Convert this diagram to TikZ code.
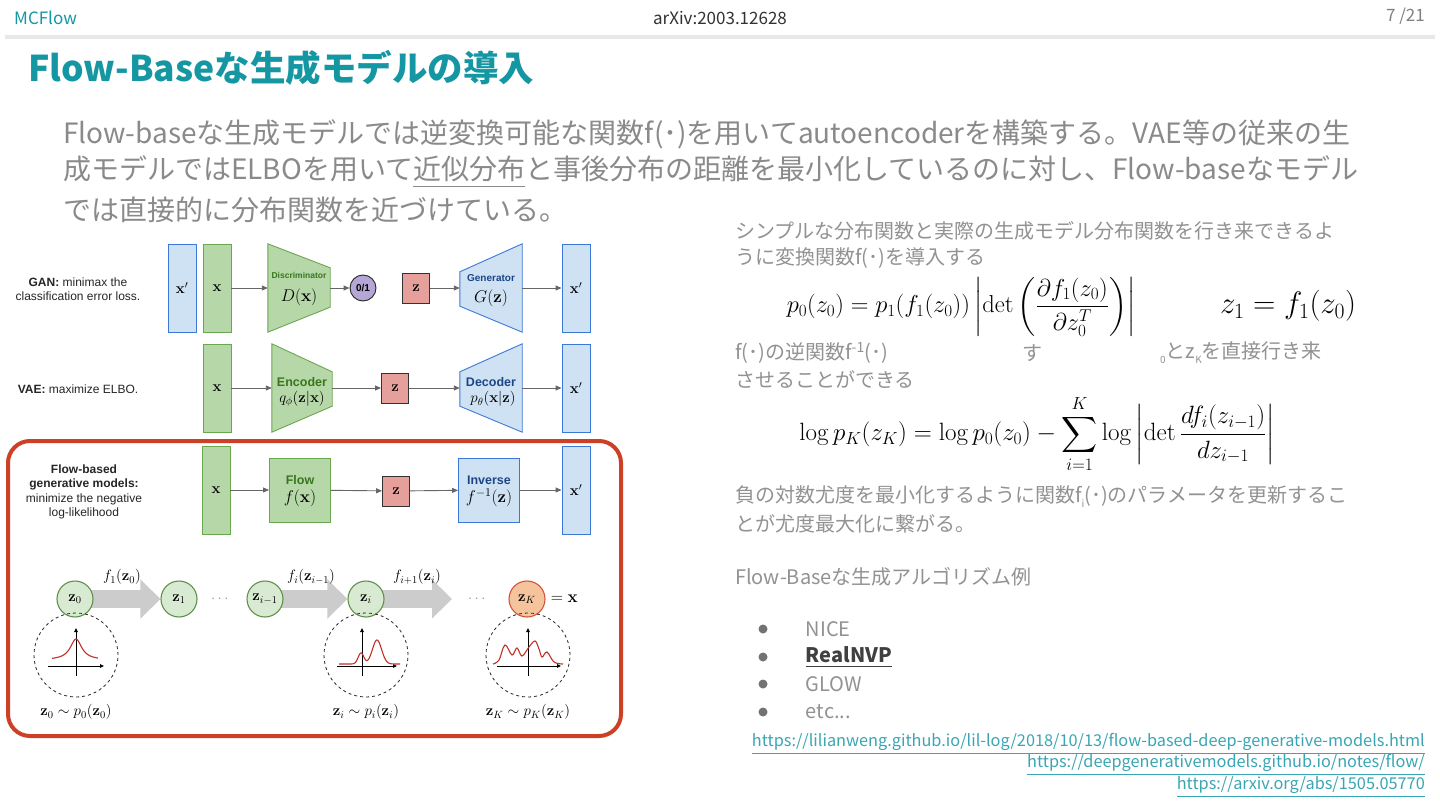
\RequirePackage{fix-cm}
\documentclass[tikz,border=0pt]{standalone}
\usepackage{amsmath,amssymb}
\usepackage[no-math]{fontspec}
\setmainfont{Noto Sans CJK JP}
\newfontfamily\arialfont{Liberation Sans}
\usetikzlibrary{arrows.meta, positioning, calc, backgrounds}

\definecolor{slideteal}{HTML}{1597A3}
\definecolor{bodygray}{HTML}{8A8A8A}
\definecolor{sidegray}{HTML}{929292}
\definecolor{rulegray}{HTML}{E8E8E8}
\definecolor{linkteal}{HTML}{3AA6B4}
\definecolor{grnfill}{HTML}{B6D7A8}
\definecolor{grnline}{HTML}{6AA84F}
\definecolor{grnlbl}{HTML}{38761D}
\definecolor{bluefill}{HTML}{CFE2F3}
\definecolor{blueline}{HTML}{3C78D8}
\definecolor{bluelbl}{HTML}{1C4587}
\definecolor{zred}{HTML}{E6A09B}
\definecolor{purp}{HTML}{B4A7D6}
\definecolor{cgreen}{HTML}{D9EAD3}
\definecolor{corange}{HTML}{F6C49C}
\definecolor{framered}{HTML}{CC4125}
\definecolor{blockgray}{HTML}{CCCCCC}
\definecolor{distred}{HTML}{C0302A}

\newcommand{\lowidx}[1]{\raisebox{-0.45ex}{\fontsize{10}{10}\selectfont #1}}

\begin{document}
\begin{tikzpicture}[x=1pt, y=-1pt,
  hdr/.style={font=\fontsize{17}{20}\selectfont, inner sep=0},
  bodytxt/.style={font=\fontsize{28}{32}\selectfont, text=bodygray, anchor=west, inner sep=0},
  sidetxt/.style={font=\fontsize{20}{23}\selectfont, text=sidegray, anchor=west, inner sep=0},
  linktxt/.style={font=\fontsize{16.3}{18}\selectfont, text=linkteal, anchor=east, inner sep=0},
  bulletdot/.style={circle, fill=black!55, minimum size=9, inner sep=0},
  region/.style={inner sep=0, minimum width=62, minimum height=88},
  gbar/.style={draw=grnline, fill=grnfill, line width=0.9pt, minimum width=28,
               minimum height=88, inner sep=0, font=\fontsize{15}{18}\selectfont},
  bbar/.style={gbar, draw=blueline, fill=bluefill},
  gshape/.style={draw=grnline, fill=grnfill, line width=0.9pt},
  bshape/.style={draw=blueline, fill=bluefill, line width=0.9pt},
  zsq/.style={draw=black!80, fill=zred, line width=0.9pt, minimum width=27,
              minimum height=30, inner sep=0, font=\fontsize{15}{18}\selectfont},
  figarr/.style={-{Triangle[length=6pt, width=5pt]}, draw=black!60, line width=0.9pt},
  glbl/.style={font=\arialfont\bfseries\fontsize{11}{13}\selectfont, text=grnlbl, inner sep=0},
  blbl/.style={glbl, text=bluelbl},
  fmath/.style={font=\fontsize{15}{18}\selectfont, inner sep=0},
  figlbl/.style={font=\arialfont\fontsize{12}{14.5}\selectfont, align=center, inner sep=0, text=black!85},
  cnode/.style={circle, draw=grnlbl!80, fill=cgreen, line width=1.1pt, minimum size=36,
                inner sep=0, font=\fontsize{15}{18}\selectfont},
  knode/.style={cnode, draw=framered!90, fill=corange},
  blkarr/.style={draw=blockgray, line width=18pt, -{Triangle[length=20pt, width=38pt]}},
  dcirc/.style={circle, draw=black!85, dashed, line width=0.8pt, minimum size=84, inner sep=0},
  axisarr/.style={-{Triangle[length=4pt, width=3.5pt]}, line width=0.9pt, draw=black},
  distcurve/.style={draw=distred, line width=1.1pt},
]
  \begin{scope}[on background layer]
    \fill[white] (0,0) rectangle (1440,810);
  \end{scope}
  \useasboundingbox (0,0) rectangle (1440,810);

  % header
  \node[hdr, text=slideteal, anchor=west] (mc) at (14,18) {MCFlow};
  \node[hdr, text=black!80] (arx) at (720,18) {arXiv:2003.12628};
  \node[hdr, text=black!50, anchor=east] (pg) at (1425,16) {7 /21};
  \draw[rulegray, line width=4pt] (5,37) -- (1435,37);

  \node[font=\fontsize{35.5}{40}\selectfont\bfseries, text=slideteal, anchor=west, inner sep=0]
    (ttl) at (28,68) {Flow-Baseな生成モデルの導入};

  % lead paragraph
  \node[bodytxt] (p1) at (63,134) {Flow-baseな生成モデルでは逆変換可能な関数f(･)を用いてautoencoderを構築する。VAE等の従来の生};
  \node[bodytxt] (p2) at (63,172) {成モデルではELBOを用いて\underline{近似分布}と事後分布の距離を最小化しているのに対し、Flow-baseなモデル};
  \node[bodytxt] (p3) at (63,210) {では直接的に分布関数を近づけている。};

  % right column
  \node[sidetxt] (r1) at (735,231) {シンプルな分布関数と実際の生成モデル分布関数を行き来できるよ};
  \node[sidetxt] (r2) at (735,258) {うに変換関数f(･)を導入する};
  \node[font=\fontsize{24.5}{29}\selectfont, inner sep=0] (eqjac) at (961,307)
    {$p_0(z_0) = p_1(f_1(z_0))\left|\det\left(\dfrac{\partial f_1(z_0)}{\partial z_0^T}\right)\right|$};
  \node[font=\fontsize{31}{36}\selectfont, inner sep=0] (eqmap) at (1288,306) {$z_1 = f_1(z_0)$};
  \node[sidetxt] (r3) at (735,353) {f(･)の逆関数f\textsuperscript{-1}(･)};
  \node[sidetxt] (r3b) at (1022,353) {す};
  \node[sidetxt] (r3c) at (1160,353) {\lowidx{0}とz\lowidx{K}を直接行き来};
  \node[sidetxt] (r4) at (735,380) {させることができる};
  \node[font=\fontsize{25}{29}\selectfont, inner sep=0] (eqlik) at (1037,434)
    {$\displaystyle \log p_K(z_K) = \log p_0(z_0) - \sum_{i=1}^{K}\log\left|\det\frac{df_i(z_{i-1})}{dz_{i-1}}\right|$};
  \node[sidetxt] (r5) at (735,497) {負の対数尤度を最小化するように関数f\lowidx{i}(･)のパラメータを更新するこ};
  \node[sidetxt] (r6) at (735,524) {とが尤度最大化に繋がる。};
  \node[sidetxt] (r7) at (735,577) {Flow-Baseな生成アルゴリズム例};

  \foreach \lbl/\yy [count=\k] in {NICE/629, {\textcolor{black!75}{\bfseries\underline{RealNVP}}}/657, GLOW/684, {etc.{}.{}.}/712} {
    \node[bulletdot] (dot\k) at (763,\yy) {};
    \node[sidetxt, right=38pt of dot\k] (item\k) {\lbl};
  }

  \node[linktxt] (l1) at (1425,744) {\underline{https://lilianweng.github.io/lil-log/2018/10/13/flow-based-deep-generative-models.html}};
  \node[linktxt] (l2) at (1425,765) {\underline{https://deepgenerativemodels.github.io/notes/flow/}};
  \node[linktxt] (l3) at (1425,787) {\underline{https://arxiv.org/abs/1505.05770}};

  % GAN row
  \node[figlbl] (lgan) at (78,289) {\textbf{GAN:} minimax the\\classification error loss.};
  \node[bbar] (xg0) at (182,288) {$\mathbf{x}'$};
  \node[gbar] (xg) at (217,288) {$\mathbf{x}$};
  \node[region] (dis) at (299,288) {};
  \draw[gshape] (dis.north west) -- ($(dis.north east)+(0,24)$) -- ($(dis.south east)+(0,-25)$) -- (dis.south west) -- cycle;
  \node[glbl, font=\arialfont\bfseries\fontsize{8.5}{10}\selectfont] at ($(dis)+(0,-13)$) {Discriminator};
  \node[fmath, font=\fontsize{17}{20}\selectfont] at ($(dis)+(0,9)$) {$D(\mathbf{x})$};
  \node[circle, draw=black!85, fill=purp, line width=0.9pt, minimum size=26, inner sep=0,
        font=\arialfont\bfseries\fontsize{10}{12}\selectfont] (bin) at (363,288) {0/1};
  \node[zsq] (zg) at (416,288) {$\mathbf{z}$};
  \node[region] (gen) at (491,288) {};
  \draw[bshape] ($(gen.north west)+(0,28)$) -- (gen.north east) -- (gen.south east) -- ($(gen.south west)+(0,-26)$) -- cycle;
  \node[blbl, font=\arialfont\bfseries\fontsize{10}{12}\selectfont] at ($(gen)+(0,-10)$) {Generator};
  \node[fmath, font=\fontsize{17}{20}\selectfont] at ($(gen)+(0,10)$) {$G(\mathbf{z})$};
  \node[bbar] (xg1) at (576,288) {$\mathbf{x}'$};
  \draw[figarr] (xg) -- (dis);
  \draw[figarr] (dis) -- (bin);
  \draw[figarr] (zg) -- (gen);
  \draw[figarr] (gen) -- (xg1);

  % VAE row
  \node[figlbl] (lvae) at (78,389) {\textbf{VAE:} maximize ELBO.};
  \node[gbar] (xv) at (217,388) {$\mathbf{x}$};
  \node[region, minimum width=60] (enc) at (302,388) {};
  \draw[gshape] (enc.north west) -- ($(enc.north east)+(0,28)$) -- ($(enc.south east)+(0,-26)$) -- (enc.south west) -- cycle;
  \node[glbl, font=\arialfont\bfseries\fontsize{12.5}{14}\selectfont] at ($(enc)+(0,-6)$) {Encoder};
  \node[fmath] at ($(enc)+(0,11)$) {$q_\phi(\mathbf{z}|\mathbf{x})$};
  \node[zsq] (zv) at (395,388) {$\mathbf{z}$};
  \node[region] (dec) at (491,388) {};
  \draw[bshape] ($(dec.north west)+(0,28)$) -- (dec.north east) -- (dec.south east) -- ($(dec.south west)+(0,-26)$) -- cycle;
  \node[blbl, font=\arialfont\bfseries\fontsize{12.5}{14}\selectfont] at ($(dec)+(0,-6)$) {Decoder};
  \node[fmath] at ($(dec)+(2,11)$) {$p_\theta(\mathbf{x}|\mathbf{z})$};
  \node[bbar] (xv1) at (576,388) {$\mathbf{x}'$};
  \draw[figarr] (xv) -- (enc);
  \draw[figarr] (enc) -- (zv);
  \draw[figarr] (zv) -- (dec);
  \draw[figarr] (dec) -- (xv1);

  % flow row
  \draw[framered, line width=4pt, rounded corners=22pt] (8,441) rectangle (621,736);
  \node[figlbl] (lflow) at (84,492) {\textbf{Flow-based}\\\textbf{generative models:}\\minimize the negative\\log-likelihood};
  \node[gbar] (xf) at (216,490) {$\mathbf{x}$};
  \node[gbar, minimum width=61, minimum height=64] (flw) at (300,490) {};
  \node[glbl, font=\arialfont\bfseries\fontsize{12.5}{14}\selectfont] at ($(flw)+(0,-10)$) {Flow};
  \node[fmath, font=\fontsize{17}{20}\selectfont] at ($(flw)+(0,8)$) {$f(\mathbf{x})$};
  \node[zsq] (zf) at (396,491) {$\mathbf{z}$};
  \node[bbar, minimum width=61, minimum height=64] (inv) at (489,490) {};
  \node[blbl, font=\arialfont\bfseries\fontsize{12.5}{14}\selectfont] at ($(inv)+(0,-10)$) {Inverse};
  \node[fmath, font=\fontsize{17}{20}\selectfont] at ($(inv)+(0,8)$) {$f^{-1}(\mathbf{z})$};
  \node[bbar] (xf1) at (576,490) {$\mathbf{x}'$};
  \draw[figarr] (xf) -- (flw);
  \draw[figarr] (flw) -- (zf);
  \draw[figarr] (zf) -- (inv);
  \draw[figarr] (inv) -- (xf1);

  % chain of transformations
  \node[cnode] (z0) at (75,599) {$\mathbf{z}_0$};
  \node[cnode] (z1) at (179,599) {$\mathbf{z}_1$};
  \node[fmath, text=black!40] (dots1) at (221,599) {$\cdots$};
  \node[cnode] (zim) at (265,599) {$\mathbf{z}_{i-1}$};
  \node[cnode] (zi) at (366,599) {$\mathbf{z}_i$};
  \node[fmath, text=black!40] (dots2) at (478,599) {$\cdots$};
  \node[knode] (zk) at (527,599) {$\mathbf{z}_K$};
  \node[fmath, font=\fontsize{17}{20}\selectfont, right=5pt of zk] (eqx) {$=\mathbf{x}$};
  \coordinate (zend) at (452,599);
  \begin{scope}[on background layer]
    \draw[blkarr] (z0.center) -- (z1);
    \draw[blkarr] (zim.center) -- (zi);
    \draw[blkarr] (zi.center) -- (zend);
  \end{scope}
  \node[fmath] (f1) at (122,577) {$f_1(\mathbf{z}_0)$};
  \node[fmath] (fi) at (311,577) {$f_i(\mathbf{z}_{i-1})$};
  \node[fmath] (fi1) at (417,577) {$f_{i+1}(\mathbf{z}_i)$};

  % densities
  \node[dcirc] (c0) at (76,655) {};
  \node[dcirc] (ci) at (366,655) {};
  \node[dcirc] (ck) at (528,655) {};
  \begin{scope}[shift={(c0.center)}]
    \draw[axisarr] (-28,11) -- (28,11);
    \draw[axisarr] (0,21) -- (0,-27);
    \draw[distcurve] plot[domain=-24:22, samples=60, smooth] (\x, {5 - 21/(1+(\x/7)^2)});
  \end{scope}
  \begin{scope}[shift={(ci.center)}]
    \draw[axisarr] (-29,11) -- (31,11);
    \draw[axisarr] (-4,21) -- (-4,-27);
    \draw[distcurve] plot[domain=-27:34, samples=80, smooth]
      (\x, {9 - 11*exp(-((\x+5)/4)^2) - 24*exp(-((\x-11)/6.5)^2)});
  \end{scope}
  \begin{scope}[shift={(ck.center)}]
    \draw[axisarr] (-31,11) -- (33,11);
    \draw[axisarr] (0,21) -- (0,-27);
    \draw[distcurve] plot[smooth, tension=0.6] coordinates {(-35,9) (-29,5) (-23,-10) (-16,0) (-11,-7)
      (-6,1) (1,-8) (7,-14) (11,-6) (14,2) (19,-3) (26,7) (35,9)};
  \end{scope}
  \node[fmath] (d0) at (76,712) {$\mathbf{z}_0\sim p_0(\mathbf{z}_0)$};
  \node[fmath] (di) at (366,712) {$\mathbf{z}_i\sim p_i(\mathbf{z}_i)$};
  \node[fmath] (dk) at (528,712) {$\mathbf{z}_K\sim p_K(\mathbf{z}_K)$};
\end{tikzpicture}
\end{document}
